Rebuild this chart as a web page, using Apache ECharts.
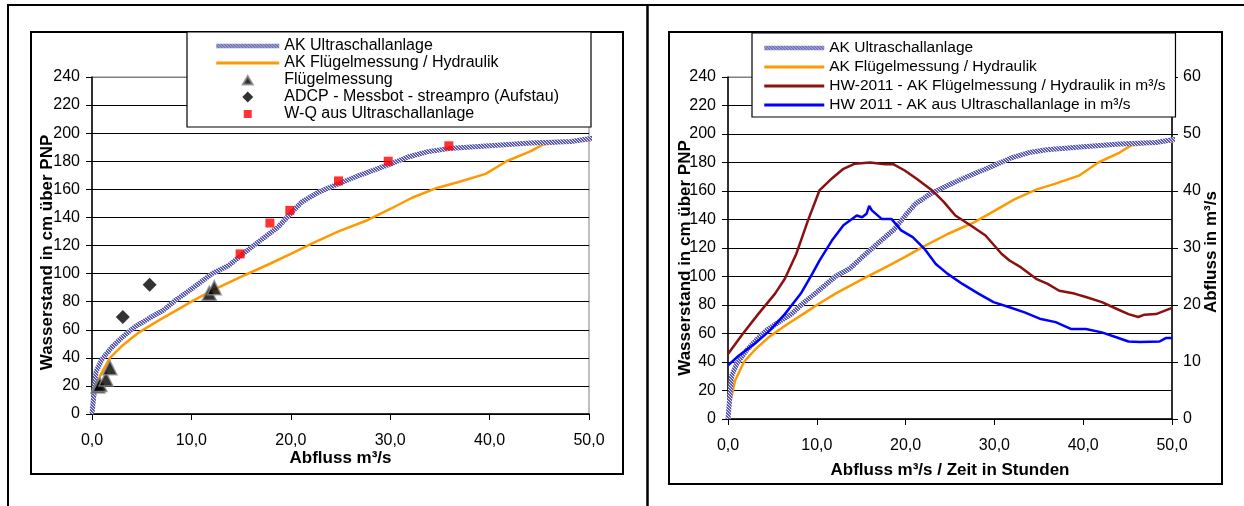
<!DOCTYPE html>
<html>
<head>
<meta charset="utf-8">
<script src="https://cdn.jsdelivr.net/npm/echarts@6/dist/echarts.min.js"></script>
<style>
  html, body { margin: 0; padding: 0; background: #fff; }
  #chart { width: 1244px; height: 506px; }
</style>
</head>
<body>
<div id="chart"></div>
<script>
// Schlüsselkurve Ultraschallanlage (Abfluss m³/s -> Wasserstand cm)
var ultraQ = [0, 0.2, 0.4, 1.0, 2.0, 3.1, 4.3, 5.7, 7.2, 8.4, 10, 12.1, 13.8, 15, 17, 18.7, 20, 21.1, 22.8, 24.8, 26.9, 30, 31.8, 33.9, 35.9, 40, 44.1, 48.2, 50.9];
var ultraW = [0, 15, 30, 39, 47.6, 55, 62, 68, 74, 81, 89, 100, 106, 113, 124, 133, 143, 151, 158, 164, 170, 178, 183, 187, 189, 191, 193, 194, 197];
// Schlüsselkurve Flügelmessung / Hydraulik
var hydQ = [0, 0.3, 0.8, 1.8, 3.1, 4.7, 6.8, 8.8, 10, 12.1, 15.4, 17.9, 20, 22, 24.8, 27.7, 30, 32.2, 34.7, 36.8, 39.6, 41.7, 44.1, 45.4, 48.2, 50.9];
var hydW = [0, 13, 27, 40, 49, 58, 67, 75, 80, 88, 99, 107, 114, 121, 130, 138, 146, 154, 161, 165, 171, 180, 187, 192, 194, 195];
// Einzelmessungen
var fluegelQ = [0.6, 0.8, 1.4, 1.8, 11.8, 12.3];
var fluegelW = [20, 21, 25, 33, 86, 90];
var adcpQ = [3.1, 5.8];
var adcpW = [69, 92];
var wqQ = [14.9, 17.9, 19.9, 24.8, 29.8, 35.9];
var wqW = [114, 136, 145, 166, 180, 191];
// Hochwasser 2011 (Zeit in Stunden -> Abfluss m³/s)
var hwHydT = [0, 1.65, 3.4, 5.3, 6.4, 7.7, 9.0, 10.3, 11.7, 13.0, 14.3, 16.0, 17.7, 18.6, 19.9, 21.2, 23.0, 24.3, 25.6, 27.3, 29.0, 30.8, 31.7, 33.0, 34.7, 36.0, 37.3, 39.0, 40.3, 42.1, 43.8, 45.1, 46.2, 46.9, 48.2, 50.0];
var hwHydQ = [11.4, 14.9, 18.4, 22.0, 24.6, 29.0, 34.8, 40.1, 42.2, 43.9, 44.8, 45.0, 44.7, 44.7, 43.6, 42.2, 40.1, 38.1, 35.7, 34.0, 32.2, 29.0, 27.8, 26.6, 24.6, 23.7, 22.5, 22.0, 21.4, 20.5, 19.3, 18.4, 17.9, 18.3, 18.4, 19.5];
var hwUltraT = [0, 1.2, 3.0, 4.7, 6.4, 8.2, 9.5, 10.3, 11.7, 13.0, 14.5, 15.1, 15.6, 15.9, 16.2, 17.3, 18.4, 19.5, 20.8, 22.1, 23.4, 24.7, 26.4, 28.2, 29.9, 31.7, 33.4, 35.1, 36.9, 38.6, 40.3, 42.1, 43.8, 45.1, 46.4, 48.6, 49.3, 50.0];
var hwUltraQ = [9.4, 11.1, 13.2, 15.5, 18.4, 22.0, 25.5, 27.8, 31.3, 34.0, 35.7, 35.4, 36.0, 37.4, 36.6, 35.1, 35.1, 33.1, 31.9, 29.9, 27.2, 25.5, 23.7, 22.0, 20.5, 19.6, 18.7, 17.6, 17.0, 15.8, 15.8, 15.2, 14.3, 13.6, 13.5, 13.6, 14.2, 14.2];

function zip(a, b) { return a.map(function (v, i) { return [v, b[i]]; }); }

// schraffierte Linie
function hatch() {
    var c = document.createElement('canvas');
    c.width = 3; c.height = 3;
    var g = c.getContext('2d');
    g.fillStyle = '#5a5ab0'; g.fillRect(0, 0, 3, 3);
    g.fillStyle = '#e4e4f6';
    g.fillRect(0, 0, 1, 1); g.fillRect(1, 1, 1, 1); g.fillRect(2, 2, 1, 1);
    return { image: c, repeat: 'repeat' };
}

var FONT = 'Liberation Sans, Arial, sans-serif';
var N_ULTRA = 'AK Ultraschallanlage';
var N_HYD = 'AK Flügelmessung / Hydraulik';
var N_FL = 'Flügelmessung';
var N_ADCP = 'ADCP - Messbot - streampro (Aufstau)';
var N_WQ = 'W-Q aus Ultraschallanlage';
var N_HWH = 'HW-2011 - AK Flügelmessung / Hydraulik in m³/s';
var N_HWU = 'HW 2011 - AK aus Ultraschallanlage in m³/s';

var gridColors = [];
for (var i = 0; i < 12; i++) gridColors.push('#000');
gridColors.push('#808080');

// Legendensymbole: Rahmen 63x11, Symbol mittig
var BOX = 'path://M0,0M63,11';
var ICON_TRI = BOX + 'M26.5,10L31.5,1.5L36.5,10Z';
var ICON_DIA = BOX + 'M31.5,0L37,5.5L31.5,11L26,5.5Z';
var ICON_SQ = BOX + 'M27.5,1.5L35.5,1.5L35.5,9.5L27.5,9.5Z';

var lineItem = function (n, w) { return { name: n, itemStyle: { opacity: 0 }, lineStyle: { width: w } }; };

function xAxis(idx, name, gap) {
    return {
        type: 'value', gridIndex: idx, min: 0, max: 50, interval: 10,
        name: name, nameLocation: 'middle', nameGap: gap, nameMoveOverlap: false,
        nameTextStyle: { fontFamily: FONT, fontSize: 17, fontWeight: 'bold', color: '#000' },
        axisLine: { lineStyle: { color: '#000', width: 1.5 } },
        axisTick: { length: 6, lineStyle: { color: '#000' } },
        axisLabel: { fontFamily: FONT, fontSize: 16, color: '#000', margin: 19,
            formatter: function (v) { return v.toFixed(1).replace('.', ','); } },
        splitLine: { show: false }
    };
}
function wAxis(idx, gap, shift) {
    return {
        type: 'value', gridIndex: idx, min: 0, max: 240, interval: 20,
        name: 'Wasserstand in cm über PNP', nameLocation: 'middle', nameGap: gap, nameRotate: 90,
        nameMoveOverlap: false,
        nameTextStyle: { fontFamily: FONT, fontSize: 17, fontWeight: 'bold', color: '#000', padding: [0, shift, 0, 0] },
        axisLine: { show: true, lineStyle: { color: '#000', width: 1.5 } },
        axisTick: { show: true, length: 6, lineStyle: { color: '#000' } },
        axisLabel: { fontFamily: FONT, fontSize: 16, color: '#000', margin: 12 },
        splitLine: { show: true, lineStyle: { color: gridColors, width: 1 } }
    };
}

var chart = echarts.init(document.getElementById('chart'));
chart.setOption({
    animation: false,
    backgroundColor: '#fff',
    textStyle: { fontFamily: FONT },
    graphic: [
        { type: 'line', shape: { x1: 7, y1: 5, x2: 1244, y2: 5 }, style: { stroke: '#000', lineWidth: 2 } },
        { type: 'line', shape: { x1: 8, y1: 5, x2: 8, y2: 506 }, style: { stroke: '#000', lineWidth: 2 } },
        { type: 'line', shape: { x1: 647.5, y1: 5, x2: 647.5, y2: 506 }, style: { stroke: '#000', lineWidth: 2.5 } },
        { type: 'rect', shape: { x: 31, y: 32, width: 592, height: 442 }, style: { stroke: '#000', lineWidth: 2, fill: null } },
        { type: 'rect', shape: { x: 669, y: 32, width: 553, height: 452 }, style: { stroke: '#000', lineWidth: 2, fill: null } }
    ],
    legend: [{
        orient: 'vertical', left: 187, top: 32, symbolKeepAspect: true,
        padding: [6, 32, 5, 27], itemWidth: 63, itemHeight: 11, itemGap: 1,
        backgroundColor: '#fff', borderColor: '#000', borderWidth: 1.2,
        textStyle: { fontFamily: FONT, fontSize: 16, lineHeight: 15, color: '#000' },
        data: [lineItem(N_ULTRA, 4.5), lineItem(N_HYD, 3),
               { name: N_FL, icon: ICON_TRI }, { name: N_ADCP, icon: ICON_DIA }, { name: N_WQ, icon: ICON_SQ }]
    }, {
        orient: 'vertical', left: 752, top: 33, symbolKeepAspect: true,
        padding: [7, 10, 4, 10], itemWidth: 60, itemHeight: 11, itemGap: 3,
        backgroundColor: '#fff', borderColor: '#000', borderWidth: 1.2,
        textStyle: { fontFamily: FONT, fontSize: 15.5, lineHeight: 15, color: '#000' },
        data: [lineItem(N_ULTRA, 4.5), lineItem(N_HYD, 3), lineItem(N_HWH, 3), lineItem(N_HWU, 3)]
    }],
    grid: [
        { left: 92, right: 655, top: 77, bottom: 92, show: true, borderColor: '#808080', borderWidth: 1 },
        { left: 728, right: 72, top: 77, bottom: 87, show: true, borderColor: '#808080', borderWidth: 1 }
    ],
    xAxis: [xAxis(0, 'Abfluss m³/s', 36), xAxis(1, 'Abfluss m³/s / Zeit in Stunden', 43)],
    yAxis: [
        wAxis(0, 36, 14),
        wAxis(1, 34, 20),
        {
            type: 'value', gridIndex: 1, position: 'right', min: 0, max: 60, interval: 10,
            name: 'Abfluss in m³/s', nameLocation: 'middle', nameGap: 31, nameRotate: 90,
            nameMoveOverlap: false,
            nameTextStyle: { fontFamily: FONT, fontSize: 17, fontWeight: 'bold', color: '#000', padding: [0, 8, 0, 0] },
            axisLine: { show: true, lineStyle: { color: '#000', width: 1.5 } },
            axisTick: { show: true, length: 6, lineStyle: { color: '#000' } },
            axisLabel: { fontFamily: FONT, fontSize: 16, color: '#000', margin: 11 },
            splitLine: { show: false }
        }
    ],
    series: [
        { name: N_HYD, type: 'line', xAxisIndex: 0, yAxisIndex: 0, data: zip(hydQ, hydW), clip: false,
          symbol: 'none', z: 2, lineStyle: { color: '#ff9900', width: 2.5 }, itemStyle: { color: '#ff9900' } },
        { name: N_ULTRA, type: 'line', xAxisIndex: 0, yAxisIndex: 0, data: zip(ultraQ, ultraW), clip: false,
          symbol: 'none', z: 3, lineStyle: { color: hatch(), width: 5 }, itemStyle: { color: '#7c7cc6' } },
        { name: N_FL, type: 'scatter', xAxisIndex: 0, yAxisIndex: 0, data: zip(fluegelQ, fluegelW),
          symbol: 'triangle', symbolSize: 14, z: 5, itemStyle: { color: '#000', borderColor: '#8a8a8a', borderWidth: 1.5 } },
        { name: N_ADCP, type: 'scatter', xAxisIndex: 0, yAxisIndex: 0, data: zip(adcpQ, adcpW),
          symbol: 'diamond', symbolSize: 14, z: 5, itemStyle: { color: '#000' } },
        { name: N_WQ, type: 'scatter', xAxisIndex: 0, yAxisIndex: 0, data: zip(wqQ, wqW),
          symbol: 'rect', symbolSize: 9, z: 5, itemStyle: { color: '#ff0000' } },

        { name: N_HYD, type: 'line', xAxisIndex: 1, yAxisIndex: 1, data: zip(hydQ, hydW),
          symbol: 'none', z: 2, lineStyle: { color: '#ff9900', width: 2.5 }, itemStyle: { color: '#ff9900' } },
        { name: N_ULTRA, type: 'line', xAxisIndex: 1, yAxisIndex: 1, data: zip(ultraQ, ultraW),
          symbol: 'none', z: 3, lineStyle: { color: hatch(), width: 5 }, itemStyle: { color: '#7c7cc6' } },
        { name: N_HWH, type: 'line', xAxisIndex: 1, yAxisIndex: 2, data: zip(hwHydT, hwHydQ),
          symbol: 'none', z: 4, lineStyle: { color: '#8b1010', width: 2.5 }, itemStyle: { color: '#8b1010' } },
        { name: N_HWU, type: 'line', xAxisIndex: 1, yAxisIndex: 2, data: zip(hwUltraT, hwUltraQ),
          symbol: 'none', z: 4, lineStyle: { color: '#0000ff', width: 2.5 }, itemStyle: { color: '#0000ff' } }
    ]
});
</script>
</body>
</html>
